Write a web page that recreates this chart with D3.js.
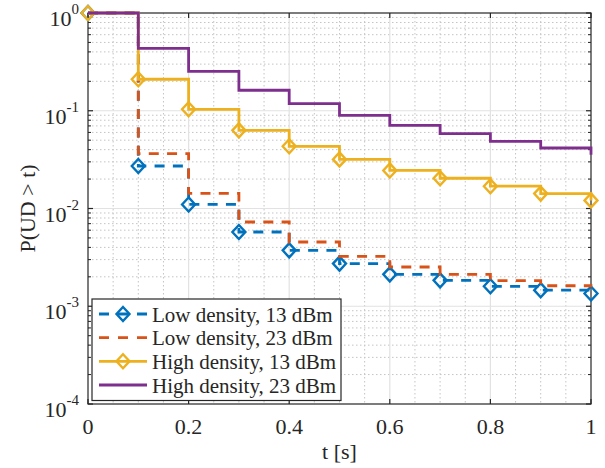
<!DOCTYPE html>
<html>
<head>
<meta charset="utf-8">
<script src="https://cdn.jsdelivr.net/npm/d3@7"></script>
<style>
  html, body { margin: 0; padding: 0; background: #fff; }
  svg { display: block; }
  text { font-family: "Liberation Serif", "Times New Roman", serif; fill: #262626; }
</style>
</head>
<body>
<svg id="chart" width="605" height="468"></svg>
<script>
// ---- Data ----
const tValues = [0, 0.1, 0.2, 0.3, 0.4, 0.5, 0.6, 0.7, 0.8, 0.9, 1.0];
const lowDensity13 = [1, 0.0272, 0.0110, 0.00575, 0.00373, 0.00273, 0.00212, 0.00184, 0.00160, 0.00146, 0.00135];
const lowDensity23 = [1, 0.0365, 0.0143, 0.00728, 0.00454, 0.00324, 0.00252, 0.00212, 0.00183, 0.00162, 0.00156];
const highDensity13 = [1, 0.210, 0.1035, 0.063, 0.0433, 0.0318, 0.0245, 0.0204, 0.0169, 0.0142, 0.0121];
const highDensity23 = [1, 0.435, 0.253, 0.162, 0.118, 0.0898, 0.071, 0.0584, 0.0487, 0.0416, 0.0355];
const seriesNames = ["Low density, 13 dBm", "Low density, 23 dBm", "High density, 13 dBm", "High density, 23 dBm"];
const xTickValues = [0, 0.2, 0.4, 0.6, 0.8, 1];
const xTickLabels = ["0", "0.2", "0.4", "0.6", "0.8", "1"];
const yTickExponents = [0, -1, -2, -3, -4];
const xLabel = "t [s]";
const yLabel = "P(UD > t)";

// ---- Layout ----
const L = 88, R = 591, T = 13, B = 404;
const svg = d3.select("#chart");
const x = d3.scaleLinear().domain([0, 1]).range([L, R]);
const y = d3.scaleLog().domain([1e-4, 1]).range([B, T]);

const axisColor = "#262626";

// ---- Grid ----
const grid = svg.append("g");
const xMinor = d3.range(1, 20).map(i => i * 0.05).filter(v => Math.abs(v / 0.2 - Math.round(v / 0.2)) > 1e-6);
const yMinor = [];
for (let e = -4; e < 0; e++) for (let k = 2; k <= 9; k++) yMinor.push(k * Math.pow(10, e));
grid.selectAll(".xmin").data(xMinor).enter().append("line")
  .attr("x1", d => x(d)).attr("x2", d => x(d)).attr("y1", T).attr("y2", B)
  .attr("stroke", "#c4c4c4").attr("stroke-width", 1).attr("stroke-dasharray", "1.5,2.5");
grid.selectAll(".ymin").data(yMinor).enter().append("line")
  .attr("y1", d => y(d)).attr("y2", d => y(d)).attr("x1", L).attr("x2", R)
  .attr("stroke", "#c4c4c4").attr("stroke-width", 1).attr("stroke-dasharray", "1.5,2.5");
grid.selectAll(".xmaj").data(xTickValues.slice(1, -1)).enter().append("line")
  .attr("x1", d => x(d)).attr("x2", d => x(d)).attr("y1", T).attr("y2", B)
  .attr("stroke", "#e2e2e2").attr("stroke-width", 1.2);
grid.selectAll(".ymaj").data(yTickExponents.slice(1, -1)).enter().append("line")
  .attr("y1", d => y(Math.pow(10, d))).attr("y2", d => y(Math.pow(10, d))).attr("x1", L).attr("x2", R)
  .attr("stroke", "#e2e2e2").attr("stroke-width", 1.2);

// ---- Axes box & ticks ----
const ax = svg.append("g");
ax.append("rect").attr("x", L).attr("y", T).attr("width", R - L).attr("height", B - T)
  .attr("fill", "none").attr("stroke", axisColor).attr("stroke-width", 1.2);
xTickValues.forEach(v => {
  ax.append("line").attr("x1", x(v)).attr("x2", x(v)).attr("y1", B).attr("y2", B - 5).attr("stroke", axisColor).attr("stroke-width", 1.2);
  ax.append("line").attr("x1", x(v)).attr("x2", x(v)).attr("y1", T).attr("y2", T + 5).attr("stroke", axisColor).attr("stroke-width", 1.2);
});
yTickExponents.forEach(e => {
  const yy = y(Math.pow(10, e));
  ax.append("line").attr("x1", L).attr("x2", L + 5).attr("y1", yy).attr("y2", yy).attr("stroke", axisColor).attr("stroke-width", 1.2);
  ax.append("line").attr("x1", R).attr("x2", R - 5).attr("y1", yy).attr("y2", yy).attr("stroke", axisColor).attr("stroke-width", 1.2);
});
yMinor.forEach(v => {
  const yy = y(v);
  ax.append("line").attr("x1", L).attr("x2", L + 3).attr("y1", yy).attr("y2", yy).attr("stroke", axisColor).attr("stroke-width", 1);
  ax.append("line").attr("x1", R).attr("x2", R - 3).attr("y1", yy).attr("y2", yy).attr("stroke", axisColor).attr("stroke-width", 1);
});

// tick labels
xTickValues.forEach((v, i) => {
  ax.append("text").attr("x", x(v)).attr("y", 433.5).attr("text-anchor", "middle")
    .attr("font-size", 22).text(xTickLabels[i]);
});
yTickExponents.forEach(e => {
  const t = ax.append("text").attr("x", 79).attr("y", y(Math.pow(10, e)) + 13).attr("text-anchor", "end").attr("font-size", 22);
  t.append("tspan").text("10");
  t.append("tspan").attr("dy", -12).attr("font-size", 15).text(String(e));
});

// axis labels
svg.append("text").attr("x", (L + R) / 2).attr("y", 459).attr("text-anchor", "middle").attr("font-size", 22).text(xLabel);
svg.append("text").attr("transform", `translate(35,${(T + B) / 2}) rotate(-90)`).attr("text-anchor", "middle").attr("font-size", 22).text(yLabel);

// ---- Series ----
const series = [
  { name: seriesNames[0], values: lowDensity13, color: "#0072BD", dash: "10,8.3", marker: true },
  { name: seriesNames[1], values: lowDensity23, color: "#D95319", dash: "10,8.3", marker: false },
  { name: seriesNames[2], values: highDensity13, color: "#EDB120", dash: null, marker: true },
  { name: seriesNames[3], values: highDensity23, color: "#7E2F8E", dash: null, marker: false }
];
const line = d3.line().x(d => x(d[0])).y(d => y(d[1])).curve(d3.curveStepAfter);
const diamond = (cx, cy, r) => `M${cx},${cy - r * 1.08}L${cx + r},${cy}L${cx},${cy + r * 1.08}L${cx - r},${cy}Z`;

const plot = svg.append("g");
series.forEach(s => {
  const pts = tValues.map((t, i) => [t, s.values[i]]);
  plot.append("path").attr("d", line(pts)).attr("fill", "none").attr("stroke", s.color)
    .attr("stroke-width", 2.8).attr("stroke-dasharray", s.dash).attr("stroke-linejoin", "miter");
  if (s.marker) {
    plot.selectAll(null).data(pts).enter().append("path")
      .attr("d", d => diamond(x(d[0]), y(d[1]), 6.5))
      .attr("fill", "none").attr("stroke", s.color).attr("stroke-width", 2.4);
  }
});

// ---- Legend ----
const lg = svg.append("g");
lg.append("rect").attr("x", 92).attr("y", 299).attr("width", 249).attr("height", 101.5)
  .attr("fill", "#fff").attr("stroke", axisColor).attr("stroke-width", 1.2);
const rowY = [314, 337.7, 361.3, 385];
series.forEach((s, i) => {
  const yy = rowY[i];
  lg.append("line").attr("x1", 99).attr("x2", 147).attr("y1", yy).attr("y2", yy)
    .attr("stroke", s.color).attr("stroke-width", 2.8).attr("stroke-dasharray", s.dash ? "10,9" : null);
  if (s.marker) {
    lg.append("path").attr("d", diamond(123, yy, 6.5)).attr("fill", "none").attr("stroke", s.color).attr("stroke-width", 2.4);
  }
  lg.append("text").attr("x", 152).attr("y", yy + 7.5).attr("font-size", 21).text(s.name);
});
</script>
</body>
</html>
